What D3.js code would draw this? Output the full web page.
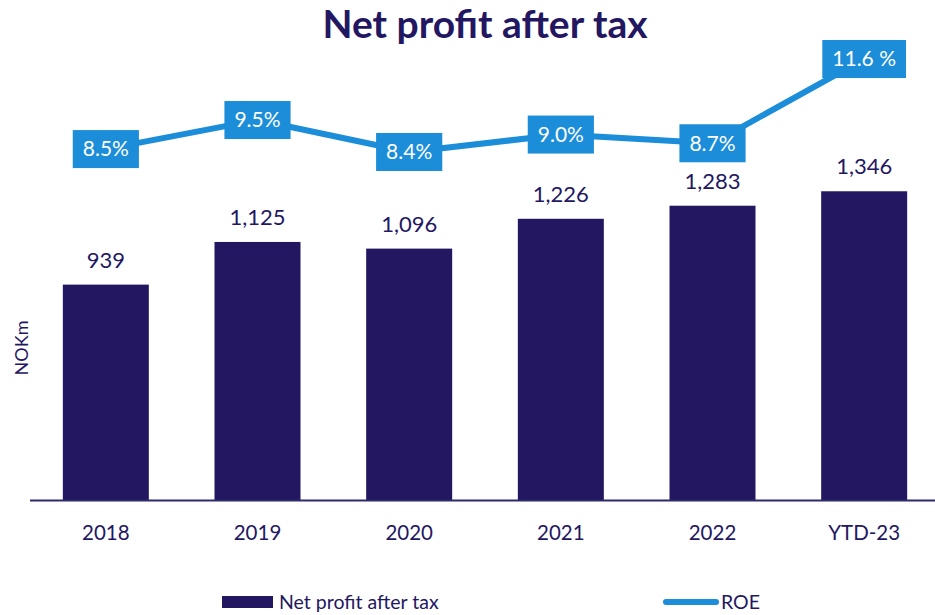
<!DOCTYPE html>
<html>
<head>
<meta charset="utf-8">
<script src="https://cdn.jsdelivr.net/npm/d3@7"></script>
<style>
  html, body { margin: 0; padding: 0; background: #ffffff; }
  svg { display: block; }
</style>
</head>
<body>
<svg id="chart" width="935" height="615"></svg>
<script>
// Net profit after tax (NOKm) and return on equity by period
const categories = ["2018", "2019", "2020", "2021", "2022", "YTD-23"];
const netProfit = [939, 1125, 1096, 1226, 1283, 1346];
const roe = [8.5, 9.5, 8.4, 9.0, 8.7, 11.6];
const roeLabels = ["8.5%", "9.5%", "8.4%", "9.0%", "8.7%", "11.6 %"];
const profitLabels = ["939", "1,125", "1,096", "1,226", "1,283", "1,346"];

const navy = "#231762";
const blue = "#1b8dd9";
const font = "Lato, 'Open Sans', sans-serif";

const svg = d3.select("#chart");

const x = d3.scaleBand()
  .domain(categories)
  .range([30, 940])
  .paddingInner(0.433)
  .paddingOuter(0.2165);

const y = d3.scaleLinear()
  .domain([0, 1600])
  .range([500, 133]);

const yRoe = d3.scaleLinear()
  .domain([8, 12])
  .range([163.6, 47.4]);

// Title
svg.append("text")
  .attr("x", 485)
  .attr("y", 38)
  .attr("text-anchor", "middle")
  .attr("font-family", font)
  .attr("font-weight", 700)
  .attr("font-size", 39)
  .attr("fill", navy)
  .text("Net profit after tax");

// Bars
svg.append("g").selectAll("rect")
  .data(netProfit)
  .join("rect")
  .attr("x", (d, i) => x(categories[i]))
  .attr("width", x.bandwidth())
  .attr("y", d => y(d))
  .attr("height", d => y(0) - y(d))
  .attr("fill", navy);

// Bar value labels
svg.append("g").selectAll("text")
  .data(netProfit)
  .join("text")
  .attr("x", (d, i) => x(categories[i]) + x.bandwidth() / 2)
  .attr("y", d => y(d) - 17)
  .attr("text-anchor", "middle")
  .attr("font-family", font)
  .attr("font-size", 22)
  .attr("fill", navy)
  .text((d, i) => profitLabels[i]);

// Baseline axis
const xAxis = d3.axisBottom(x).tickSize(0).tickPadding(0);
const gx = svg.append("g")
  .attr("transform", `translate(0,${y(0)})`)
  .call(xAxis);
gx.select(".domain")
  .attr("d", "M30,0.5H935")
  .attr("stroke", "#2e2a6c")
  .attr("stroke-width", 2);
gx.selectAll(".tick text")
  .attr("dy", 0)
  .attr("y", 40)
  .attr("font-family", font)
  .attr("font-size", 20.5)
  .attr("fill", navy);

// Y axis title
svg.append("text")
  .attr("transform", "translate(28,348) rotate(-90)")
  .attr("text-anchor", "middle")
  .attr("font-family", font)
  .attr("font-size", 18)
  .attr("fill", navy)
  .text("NOKm");

// ROE line
const line = d3.line()
  .x((d, i) => x(categories[i]) + x.bandwidth() / 2)
  .y(d => yRoe(d));

svg.append("path")
  .datum(roe)
  .attr("d", line)
  .attr("fill", "none")
  .attr("stroke", blue)
  .attr("stroke-width", 6)
  .attr("stroke-linejoin", "round");

// ROE labels in boxes
const lab = svg.append("g").selectAll("g")
  .data(roe)
  .join("g")
  .attr("transform", (d, i) => `translate(${x(categories[i]) + x.bandwidth() / 2},${yRoe(d)})`);

lab.append("text")
  .attr("text-anchor", "middle")
  .attr("dy", "0.35em")
  .attr("font-family", font)
  .attr("font-size", 21)
  .attr("fill", "#ffffff")
  .text((d, i) => roeLabels[i]);

lab.each(function() {
  const g = d3.select(this);
  const bb = g.select("text").node().getBBox();
  const padX = 10;
  const w = Math.max(64, bb.width + 2 * padX);
  g.insert("rect", "text")
    .attr("x", -w / 2)
    .attr("y", -19)
    .attr("width", w)
    .attr("height", 38)
    .attr("fill", blue);
});

// Legend
const legend = svg.append("g");
legend.append("rect")
  .attr("x", 222).attr("y", 596)
  .attr("width", 51).attr("height", 12)
  .attr("fill", navy);
legend.append("text")
  .attr("x", 279).attr("y", 602)
  .attr("dy", "0.35em")
  .attr("font-family", font)
  .attr("font-size", 19.5)
  .attr("fill", navy)
  .text("Net profit after tax");
legend.append("line")
  .attr("x1", 666).attr("x2", 716)
  .attr("y1", 602).attr("y2", 602)
  .attr("stroke", blue)
  .attr("stroke-width", 6)
  .attr("stroke-linecap", "round");
legend.append("text")
  .attr("x", 721).attr("y", 602)
  .attr("dy", "0.35em")
  .attr("font-family", font)
  .attr("font-size", 19.5)
  .attr("fill", navy)
  .text("ROE");
</script>
</body>
</html>
